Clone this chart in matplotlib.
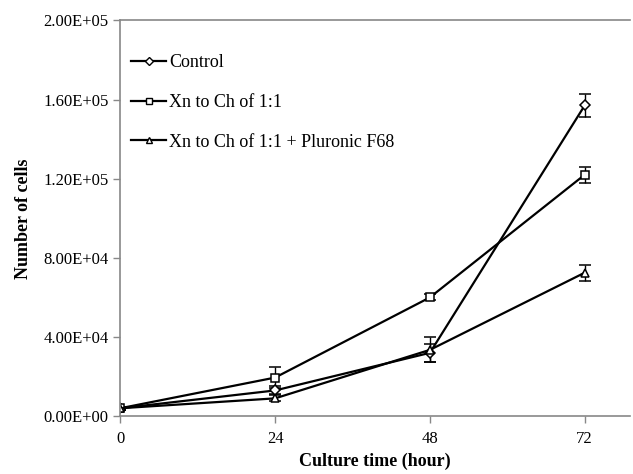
import numpy as np
import matplotlib.pyplot as plt
from matplotlib.lines import Line2D
from matplotlib.ticker import FuncFormatter

# culture time (hour)
hours = [0, 24, 48, 72]

# number of cells
control = [4000, 13000, 32000, 157000]
control_err = [800, 2000, 4500, 6000]
xn_ch = [4000, 19500, 60000, 122000]
xn_ch_err = [800, 5500, 1500, 4000]
xn_ch_plu = [4000, 9000, 33500, 72500]
xn_ch_plu_err = [800, 1500, 6300, 4000]

labels = ["Control", "Xn to Ch of 1:1", "Xn to Ch of 1:1 + Pluronic F68"]

plt.rcParams['font.family'] = ['Liberation Serif', 'DejaVu Serif']

fig, ax = plt.subplots(figsize=(6.33, 4.74), dpi=100)
fig.subplots_adjust(left=0.19, right=0.995, top=0.957, bottom=0.122)

series = [
    (control, control_err, 'D', 5.5),
    (xn_ch, xn_ch_err, 's', 6),
    (xn_ch_plu, xn_ch_plu_err, '^', 6),
]
handles = []
for (vals, err, mk, ms), lab in zip(series, labels):
    ax.errorbar(hours, vals, yerr=err, color='black', lw=1.6, marker=mk,
                ms=ms, mfc='white', mec='black', mew=1.1,
                ecolor='black', elinewidth=1.0, capsize=4, capthick=1.0)
    handles.append(Line2D([], [], color='black', lw=1.6, marker=mk,
                          ms=ms - 1, mfc='white', mec='black', mew=1.0,
                          label=lab))

ax.set_xlim(0, 79)
ax.set_ylim(0, 200000)
ax.set_xticks(hours)
ax.set_yticks(np.arange(0, 200001, 40000))
ax.yaxis.set_major_formatter(FuncFormatter(lambda v, p: "%.2E" % v))

ax.spines['right'].set_visible(False)
for s in ['left', 'bottom', 'top']:
    ax.spines[s].set_color('#888888')
    ax.spines[s].set_linewidth(1.2)
ax.tick_params(direction='out', length=5, width=1, color='#888888',
               labelsize=12, labelcolor='black')
ax.tick_params(axis='x', pad=6)

ax.set_xlabel("Culture time (hour)", fontsize=13, fontweight='bold', labelpad=4)
ax.set_ylabel("Number of cells", fontsize=13, fontweight='bold', labelpad=8)

ax.legend(handles=handles, loc='upper left', bbox_to_anchor=(-0.01, 0.955),
          frameon=False, fontsize=13, handlelength=1.9, handletextpad=0.2,
          labelspacing=1.25)

fig.savefig("out.png", dpi=100)
